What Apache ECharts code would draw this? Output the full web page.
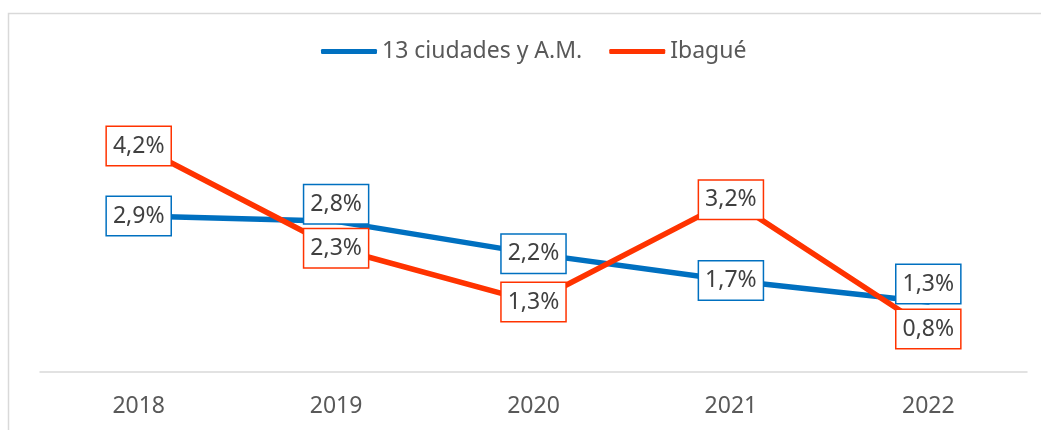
<!DOCTYPE html>
<html>
<head>
<meta charset="utf-8">
<script src="https://cdn.jsdelivr.net/npm/echarts@6/dist/echarts.min.js"></script>
<style>
  html, body { margin: 0; padding: 0; background: #fff; }
  #chart { width: 1041px; height: 430px; }
</style>
</head>
<body>
<div id="chart"></div>
<script>
const years = ["2018", "2019", "2020", "2021", "2022"];
const ciudades = [2.9, 2.8, 2.2, 1.7, 1.3];
const ibague = [4.2, 2.3, 1.3, 3.2, 0.8];

const blue = "#0070C0";
const red = "#FF3300";
const textColor = "#404040";
const font = "'Noto Sans', 'Open Sans', sans-serif";

// labels that Excel nudged above the point instead of centring them
const blueShift = [0, -17, 0, 0, -18];

const fmt = (v) => v.toFixed(1).replace(".", ",") + "%";

function labelBox(color) {
  return {
    show: true,
    position: "inside",
    formatter: (p) => fmt(p.value),
    color: textColor,
    fontFamily: font,
    fontSize: 23,
    lineHeight: 28,
    backgroundColor: "#fff",
    borderColor: color,
    borderWidth: 1.5,
    padding: [5, 6, 5, 6],
  };
}

const chart = echarts.init(document.getElementById("chart"));
chart.setOption({
  animation: false,
  graphic: [
    {
      type: "rect",
      shape: { x: 8.5, y: 13.5, width: 1100, height: 500 },
      style: { fill: "none", stroke: "#d9d9d9", lineWidth: 1.5 },
      silent: true,
      z: -1,
    },
  ],
  legend: {
    left: 316,
    top: 35,
    icon: "roundRect",
    itemWidth: 56,
    itemHeight: 5,
    itemGap: 27,
    textStyle: { color: "#595959", fontFamily: font, fontSize: 23 },
    data: ["13 ciudades y A.M.", "Ibagué"],
  },
  grid: { left: 40, right: 14, top: 103, bottom: 58 },
  xAxis: {
    type: "category",
    data: years,
    boundaryGap: true,
    axisTick: { show: false },
    axisLine: { lineStyle: { color: "#d9d9d9", width: 1.5 } },
    axisLabel: { color: "#595959", fontFamily: font, fontSize: 23, margin: 23 },
  },
  yAxis: {
    type: "value",
    min: 0,
    max: 5,
    show: false,
    splitLine: { show: false },
  },
  series: [
    {
      name: "13 ciudades y A.M.",
      type: "line",
      data: ciudades.map((v, i) => ({ value: v, label: { offset: [0, blueShift[i]] } })),
      symbol: "circle",
      symbolSize: 0,
      lineStyle: { color: blue, width: 5.5, cap: "round" },
      itemStyle: { color: blue },
      label: labelBox(blue),
      z: 2,
    },
    {
      name: "Ibagué",
      type: "line",
      data: ibague,
      symbol: "circle",
      symbolSize: 0,
      lineStyle: { color: red, width: 5.5, cap: "round" },
      itemStyle: { color: red },
      label: labelBox(red),
      z: 3,
    },
  ],
});
</script>
</body>
</html>
